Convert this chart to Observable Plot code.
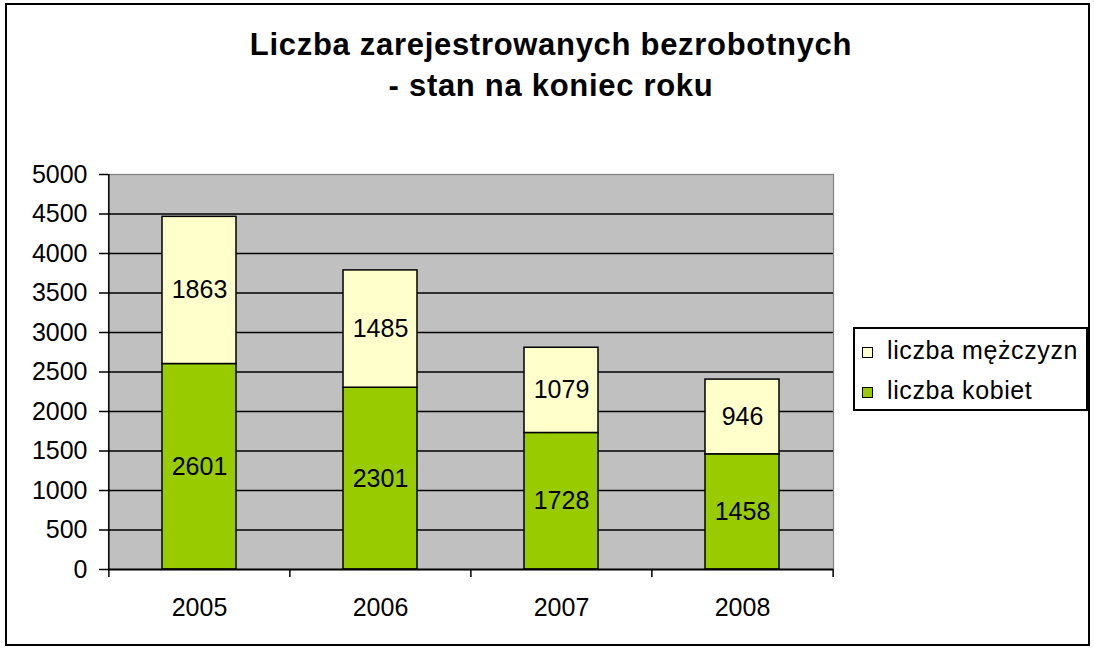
<!DOCTYPE html>
<html>
<head>
<meta charset="utf-8">
<script src="https://cdn.jsdelivr.net/npm/d3@7"></script>
<script src="https://cdn.jsdelivr.net/npm/@observablehq/plot@0.6"></script>
<style>
  html, body { margin: 0; padding: 0; background: #fff; overflow: hidden; }
  #wrap { position: relative; width: 1094px; height: 649px; font-family: "Liberation Sans", Arial, sans-serif; }
  #border { position: absolute; left: 5px; top: 3px; width: 1085px; height: 643px; border: 2px solid #000; box-sizing: border-box; }
  #title { position: absolute; left: 0; top: 24px; width: 1102px; text-align: center; font-weight: bold; font-size: 31px; line-height: 41px; letter-spacing: 0.7px; color: #000; }
  #chart { position: absolute; left: 0; top: 0; }
  #legend { position: absolute; left: 853px; top: 327px; width: 235px; height: 84px; border: 2px solid #000; box-sizing: border-box; background: #fff; }
  .row { position: absolute; left: 0; height: 42px; width: 100%; font-size: 25px; line-height: 42px; letter-spacing: 0.6px; }
  .row span.sw { position: absolute; left: 7px; top: 18px; width: 9px; height: 9px; border: 1px solid #000; }
  .row span.lb { position: absolute; left: 32px; top: 0; white-space: nowrap; }
</style>
</head>
<body>
<div id="wrap">
  <div id="border"></div>
  <div id="chart"></div>
  <div id="title"></div>
  <div id="legend"></div>
</div>
<script>
const titleLines = ["Liczba zarejestrowanych bezrobotnych", "- stan na koniec roku"];
const years = ["2005", "2006", "2007", "2008"];
const seriesNames = ["liczba kobiet", "liczba mężczyzn"];
const seriesColors = ["#99CC00", "#FFFFCC"];
const kobiet = [2601, 2301, 1728, 1458];
const mezczyzn = [1863, 1485, 1079, 946];
const yTicks = [0, 500, 1000, 1500, 2000, 2500, 3000, 3500, 4000, 4500, 5000];
const gridTicks = [500, 1000, 1500, 2000, 2500, 3000, 3500, 4000, 4500];

const data = [];
years.forEach((y, i) => {
  data.push({year: y, series: seriesNames[0], value: kobiet[i]});
  data.push({year: y, series: seriesNames[1], value: mezczyzn[i]});
});

const W = 1094, H = 649;
const mL = 108, mR = 261, mT = 174, mB = 80;
const step = (W - mL - mR) / years.length;

const chart = Plot.plot({
  width: W,
  height: H,
  marginLeft: mL,
  marginRight: mR,
  marginTop: mT,
  marginBottom: mB,
  style: {fontFamily: "'Liberation Sans', Arial, sans-serif", fontSize: "25px", background: "transparent", color: "#000"},
  x: {type: "band", domain: years, paddingInner: 0.59, paddingOuter: 0.295, label: null},
  y: {domain: [0, 5000], label: null},
  color: {domain: seriesNames, range: seriesColors},
  marks: [
    Plot.frame({fill: "#C0C0C0", stroke: "#808080", strokeWidth: 1.2}),
    Plot.ruleY(gridTicks, {stroke: "#000", strokeWidth: 1.5}),
    Plot.barY(data, {x: "year", y: "value", fill: "series", stroke: "#000", strokeWidth: 1.5}),
    Plot.text(data, Plot.stackY({x: "year", y: "value", text: d => String(d.value), fontSize: 25, fill: "#000"})),
    Plot.ruleX([years[0]], {x: d => d, dx: -step / 2, y1: 0, y2: 5000, stroke: "#000", strokeWidth: 1.5}),
    Plot.ruleY([0], {stroke: "#000", strokeWidth: 2}),
    Plot.ruleX(years, {x: d => d, dx: -step / 2, y1: 0, y2: 0, insetBottom: -8, stroke: "#000", strokeWidth: 1.5}),
    Plot.ruleX([years[years.length - 1]], {x: d => d, dx: step / 2, y1: 0, y2: 0, insetBottom: -8, stroke: "#000", strokeWidth: 1.5}),
    Plot.axisY({ticks: yTicks, tickSize: 9, tickPadding: 12, fontSize: 25, strokeWidth: 1.5, tickFormat: d => String(d), label: null}),
    Plot.axisX({tickSize: 0, tickPadding: 29, fontSize: 25, label: null})
  ]
});
document.getElementById("chart").appendChild(chart);

const t = document.getElementById("title");
titleLines.forEach(s => { const d = document.createElement("div"); d.textContent = s; t.appendChild(d); });

const lg = document.getElementById("legend");
[1, 0].forEach((si, r) => {
  const row = document.createElement("div");
  row.className = "row";
  row.style.top = (r * 40) + "px";
  const sw = document.createElement("span");
  sw.className = "sw";
  sw.style.background = seriesColors[si];
  const lb = document.createElement("span");
  lb.className = "lb";
  lb.textContent = seriesNames[si];
  row.appendChild(sw); row.appendChild(lb);
  lg.appendChild(row);
});
</script>
</body>
</html>
